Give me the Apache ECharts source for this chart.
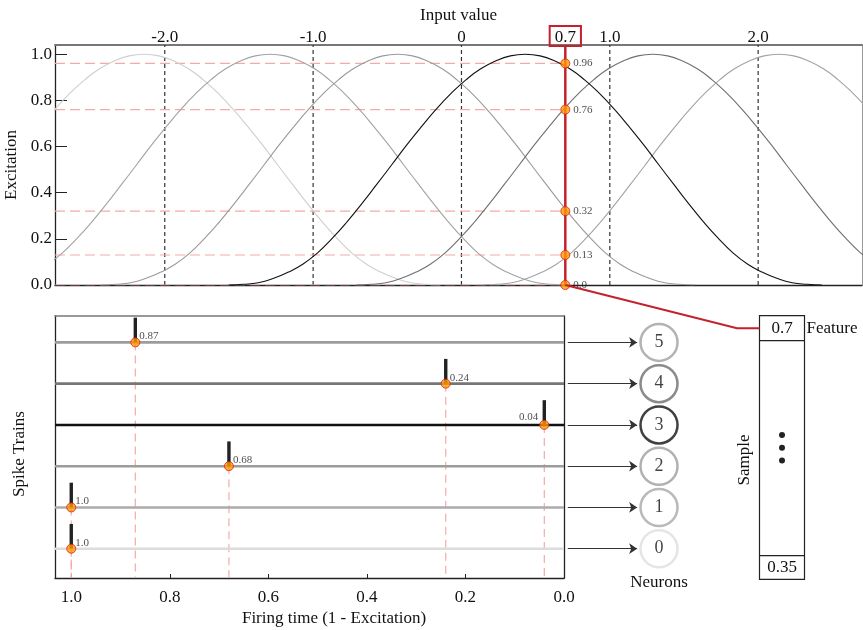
<!DOCTYPE html>
<html><head><meta charset="utf-8">
<script src="https://cdn.jsdelivr.net/npm/echarts@6/dist/echarts.min.js"></script>
<style>html,body{margin:0;padding:0;background:#fff}#c{width:863px;height:630px}</style>
</head><body><div id="c"></div>
<script>
// ---------- data ----------
const inputTicks = [-2, -1, 0, 0.7, 1, 2];
const gridTicks = [-2, -1, 0, 1, 2];
const excitationTicks = [0, 0.2, 0.4, 0.6, 0.8, 1.0];
const firingTicks = [0, 0.2, 0.4, 0.6, 0.8, 1.0];
const neuronIds = [0, 1, 2, 3, 4, 5];
const neuronCenters = [-2.14, -1.29, -0.43, 0.43, 1.29, 2.14];
const profileOffsets = [0, 0.1, 0.2, 0.3, 0.4, 0.5, 0.6, 0.7, 0.8, 0.9, 1.0, 1.1, 1.2, 1.3, 1.4, 1.5, 1.6, 1.7, 1.8, 1.9, 2.0];
const profileValues  = [1.0, 0.993, 0.971, 0.937, 0.889, 0.83, 0.762, 0.686, 0.606, 0.521, 0.437, 0.354, 0.275, 0.203, 0.139, 0.09, 0.055, 0.028, 0.01, 0.003, 0.0];
const inputValue = 0.7;
const excitationLevels = [0.96, 0.76, 0.32, 0.13, 0.0];
const excitationLabels = ['0.96', '0.76', '0.32', '0.13', '0.0'];
const firingTimes = [1.0, 1.0, 0.68, 0.04, 0.24, 0.87];
const firingLabels = ['1.0', '1.0', '0.68', '0.04', '0.24', '0.87'];
const sampleValues = ['0.7', '0.35'];

// ---------- styles ----------
const FONT = '"Liberation Serif", "Times New Roman", serif';
const curveColors = ['#cfcfcf', '#a3a3a3', '#9a9a9a', '#111111', '#6f6f6f', '#a3a3a3'];
const rowColors = ['#dcdcdc', '#ababab', '#9c9c9c', '#111111', '#777777', '#9c9c9c'];
const circleColors = ['#dedede', '#a8a8a8', '#9e9e9e', '#111111', '#6e6e6e', '#a0a0a0'];
const RED = '#c4212b';
const PINK = '#f3aaaa';
const X_MIN = -2.74, X_MAX = 2.70, Y_MAX = 1.04;
const T_MAX = 1.033, R_MIN = -0.71, R_MAX = 5.64;
const SPIKE_H = 0.6;

function curveData(c) {
  const pts = [];
  for (let k = profileOffsets.length - 1; k > 0; k--) pts.push([c - profileOffsets[k], profileValues[k]]);
  for (let k = 0; k < profileOffsets.length; k++) pts.push([c + profileOffsets[k], profileValues[k]]);
  return pts;
}

const series = [];
gridTicks.forEach(g => series.push({
  type: 'line', xAxisIndex: 1, yAxisIndex: 0, data: [[g, 0], [g, Y_MAX]], symbol: 'none', silent: true, z: 1,
  lineStyle: { color: '#333', width: 1.2, type: [4, 3] }
}));
excitationLevels.forEach(v => series.push({
  type: 'line', xAxisIndex: 1, yAxisIndex: 0, data: [[X_MIN, v], [inputValue, v]], symbol: 'none', silent: true, z: 1,
  lineStyle: { color: PINK, width: 1.2, type: [10, 5] }
}));
neuronIds.forEach(i => series.push({
  type: 'line', xAxisIndex: 1, yAxisIndex: 0, data: curveData(neuronCenters[i]), symbol: 'none', smooth: true,
  z: i === 3 ? 3 : 2, lineStyle: { color: curveColors[i], width: 1.1 }
}));
series.push({
  type: 'line', xAxisIndex: 1, yAxisIndex: 0, data: [[inputValue, 0], [inputValue, Y_MAX]], symbol: 'none', z: 4,
  lineStyle: { color: RED, width: 2.5 }
});
series.push({
  type: 'scatter', xAxisIndex: 1, yAxisIndex: 0, z: 5, symbolSize: 9,
  data: excitationLevels.map((v, k) => ({ value: [inputValue, v], label: { formatter: excitationLabels[k] } })),
  itemStyle: { color: '#ff9a00', borderColor: '#d42020', borderWidth: 1 },
  label: { show: true, position: 'right', distance: 3, fontFamily: FONT, fontSize: 11, color: '#222' }
});

// ---- bottom: spike trains ----
neuronIds.forEach(i => series.push({
  type: 'line', xAxisIndex: 2, yAxisIndex: 2, data: [[0, i], [T_MAX, i]], symbol: 'none', z: 2,
  lineStyle: { color: rowColors[i], width: 2.6 }
}));
neuronIds.forEach(i => series.push({
  type: 'line', xAxisIndex: 2, yAxisIndex: 2, data: [[firingTimes[i], i], [firingTimes[i], R_MIN]], symbol: 'none', z: 1,
  lineStyle: { color: PINK, width: 1.2, type: [8, 5] }
}));
series.push({
  type: 'custom', xAxisIndex: 2, yAxisIndex: 2, z: 3,
  data: neuronIds.map(i => [firingTimes[i], i]),
  encode: { x: 0, y: 1 },
  renderItem: (params, api) => {
    const b = api.coord([api.value(0), api.value(1)]);
    const t = api.coord([api.value(0), api.value(1) + SPIKE_H]);
    return { type: 'line', shape: { x1: b[0], y1: b[1], x2: t[0], y2: t[1] }, style: { stroke: '#222', lineWidth: 3.4 } };
  }
});
series.push({
  type: 'scatter', xAxisIndex: 2, yAxisIndex: 2, z: 5, symbolSize: 9,
  data: neuronIds.map(i => ({
    value: [firingTimes[i], i],
    label: i === 3
      ? { formatter: firingLabels[i], position: 'left', distance: 1, offset: [0, -8] }
      : { formatter: firingLabels[i], position: 'right', distance: 0, offset: [-1, -6] }
  })),
  itemStyle: { color: '#ff9a00', borderColor: '#d42020', borderWidth: 1 },
  label: { show: true, fontFamily: FONT, fontSize: 11, color: '#222' }
});

// ---- neurons ----
const ARROW_FROM = 0.04, ARROW_TO = 0.77, NEURON_X = 1.0;
series.push({
  type: 'lines', coordinateSystem: 'cartesian2d', xAxisIndex: 3, yAxisIndex: 4, z: 2,
  symbol: ['none', 'arrow'], symbolSize: [6, 8],
  lineStyle: { color: '#333', width: 1.2, opacity: 1 },
  data: neuronIds.map(i => ({ coords: [[ARROW_FROM, i], [ARROW_TO, i]] }))
});
series.push({
  type: 'scatter', xAxisIndex: 3, yAxisIndex: 4, z: 3, symbolSize: 37,
  data: neuronIds.map(i => ({ value: [NEURON_X, i], itemStyle: { borderColor: circleColors[i] } })),
  itemStyle: { color: '#fff', borderWidth: 2.5 },
  label: { show: true, position: 'inside', formatter: p => String(p.value[1]), fontFamily: FONT, fontSize: 18, color: '#111' }
});

const gridBase = { outerBoundsMode: 'none', containLabel: false };
const option = {
  animation: false,
  backgroundColor: '#fff',
  textStyle: { fontFamily: FONT },
  grid: [
    Object.assign({ left: 55, top: 45, width: 807, height: 240 }, gridBase),
    Object.assign({ left: 55, top: 316, width: 509, height: 262 }, gridBase),
    Object.assign({ left: 564, top: 316, width: 299, height: 262 }, gridBase)
  ],
  xAxis: [
    { gridIndex: 0, type: 'value', position: 'top', min: X_MIN, max: X_MAX,
      name: 'Input value', nameLocation: 'middle', nameGap: 20,
      nameTextStyle: { fontFamily: FONT, fontSize: 17, color: '#111' },
      axisLine: { onZero: false, lineStyle: { color: '#777', width: 2 } },
      axisTick: { show: false }, splitLine: { show: false },
      axisLabel: { customValues: inputTicks, margin: -1, fontFamily: FONT, fontSize: 17, color: '#111',
        formatter: v => Math.abs(v - inputValue) < 1e-9 ? '{hl|' + inputValue + '}' : (v === 0 ? '0' : v.toFixed(1)),
        rich: { hl: { fontFamily: FONT, fontSize: 17, color: '#111', borderColor: RED, borderWidth: 2, padding: [3, 5, 0, 5] } } } },
    { gridIndex: 0, type: 'value', position: 'bottom', min: X_MIN, max: X_MAX,
      axisLine: { onZero: false, lineStyle: { color: '#222', width: 1.3 } },
      axisTick: { show: false }, axisLabel: { show: false }, splitLine: { show: false } },
    { gridIndex: 1, type: 'value', position: 'bottom', min: 0, max: T_MAX, inverse: true,
      name: 'Firing time (1 - Excitation)', nameLocation: 'middle', nameGap: 32,
      nameTextStyle: { fontFamily: FONT, fontSize: 17, color: '#111', padding: [0, 0, 0, 49] },
      axisLine: { onZero: false, lineStyle: { color: '#222', width: 1.3 } },
      axisTick: { customValues: firingTicks, inside: true, length: 4, lineStyle: { color: '#222' } },
      axisLabel: { customValues: firingTicks, margin: 11, fontFamily: FONT, fontSize: 17, color: '#111', formatter: v => v.toFixed(1) },
      splitLine: { show: false } },
    { gridIndex: 2, type: 'value', min: 0, max: 3.147, show: false },
    { gridIndex: 1, type: 'value', position: 'top', min: 0, max: T_MAX, inverse: true,
      axisLine: { onZero: false, lineStyle: { color: '#777', width: 1.6 } },
      axisTick: { show: false }, axisLabel: { show: false }, splitLine: { show: false } }
  ],
  yAxis: [
    { gridIndex: 0, type: 'value', min: 0, max: Y_MAX, position: 'left',
      name: 'Excitation', nameLocation: 'middle', nameGap: 31,
      nameTextStyle: { fontFamily: FONT, fontSize: 17, color: '#111' },
      axisLine: { show: true, onZero: false, lineStyle: { color: '#222', width: 1.3 } },
      axisTick: { customValues: excitationTicks, inside: true, length: 12, lineStyle: { color: '#222' } },
      axisLabel: { customValues: excitationTicks, margin: 3, fontFamily: FONT, fontSize: 17, color: '#111', formatter: v => v.toFixed(1) },
      splitLine: { show: false } },
    { gridIndex: 0, type: 'value', min: 0, max: Y_MAX, position: 'right',
      axisLine: { show: true, onZero: false, lineStyle: { color: '#999', width: 1 } },
      axisTick: { show: false }, axisLabel: { show: false }, splitLine: { show: false } },
    { gridIndex: 1, type: 'value', min: R_MIN, max: R_MAX, position: 'left',
      name: 'Spike Trains', nameLocation: 'middle', nameGap: 27,
      nameTextStyle: { fontFamily: FONT, fontSize: 17, color: '#111', padding: [0, 14, 0, 0] },
      axisLine: { show: true, onZero: false, lineStyle: { color: '#222', width: 1.3 } },
      axisTick: { show: false }, axisLabel: { show: false }, splitLine: { show: false } },
    { gridIndex: 1, type: 'value', min: R_MIN, max: R_MAX, position: 'right',
      axisLine: { show: true, onZero: false, lineStyle: { color: '#222', width: 1.3 } },
      axisTick: { show: false }, axisLabel: { show: false }, splitLine: { show: false } },
    { gridIndex: 2, type: 'value', min: R_MIN, max: R_MAX, show: false }
  ],
  series: series
};

const chart = echarts.init(document.getElementById('c'), null, { renderer: 'canvas' });
chart.setOption(option);

// ---- sample box & connector ----
const BOX_L = 759.5, BOX_R = 804.5, BOX_T = 315.7, BOX_B = 579.3, ROW1 = 340.7, ROWN = 555.7;
const p0 = chart.convertToPixel({ xAxisIndex: 1, yAxisIndex: 0 }, [inputValue, 0]);
const midY = (BOX_T + ROW1) / 2;
const BOX_CX = (BOX_L + BOX_R) / 2;
const neuronPx = chart.convertToPixel({ xAxisIndex: 3, yAxisIndex: 4 }, [NEURON_X, 0]);
chart.setOption({
  graphic: [
    { type: 'polyline', silent: true, z: 10, shape: { points: [p0, [737, midY], [BOX_L, midY]] }, style: { stroke: RED, lineWidth: 2, fill: null } },
    { type: 'rect', silent: true, shape: { x: BOX_L, y: BOX_T, width: BOX_R - BOX_L, height: BOX_B - BOX_T }, style: { stroke: '#222', lineWidth: 1.2, fill: null } },
    { type: 'line', silent: true, shape: { x1: BOX_L, y1: ROW1, x2: BOX_R, y2: ROW1 }, style: { stroke: '#222', lineWidth: 1.2 } },
    { type: 'line', silent: true, shape: { x1: BOX_L, y1: ROWN, x2: BOX_R, y2: ROWN }, style: { stroke: '#222', lineWidth: 1.2 } },
    { type: 'text', silent: true, x: BOX_CX, y: midY, style: { text: sampleValues[0], font: '17px ' + FONT, fill: '#111', align: 'center', verticalAlign: 'middle' } },
    { type: 'text', silent: true, x: BOX_CX, y: (ROWN + BOX_B) / 2, style: { text: sampleValues[1], font: '17px ' + FONT, fill: '#111', align: 'center', verticalAlign: 'middle' } },
    { type: 'circle', silent: true, shape: { cx: BOX_CX, cy: 435, r: 3 }, style: { fill: '#222' } },
    { type: 'circle', silent: true, shape: { cx: BOX_CX, cy: 447.7, r: 3 }, style: { fill: '#222' } },
    { type: 'circle', silent: true, shape: { cx: BOX_CX, cy: 460.4, r: 3 }, style: { fill: '#222' } },
    { type: 'text', silent: true, x: BOX_R + 2, y: midY, style: { text: 'Feature', font: '17px ' + FONT, fill: '#111', align: 'left', verticalAlign: 'middle' } },
    { type: 'text', silent: true, x: 745, y: 460, rotation: Math.PI / 2, style: { text: 'Sample', font: '17px ' + FONT, fill: '#111', align: 'center', verticalAlign: 'middle' } },
    { type: 'text', silent: true, x: neuronPx[0], y: 583, style: { text: 'Neurons', font: '17px ' + FONT, fill: '#111', align: 'center', verticalAlign: 'middle' } }
  ]
});
</script>
</body></html>
